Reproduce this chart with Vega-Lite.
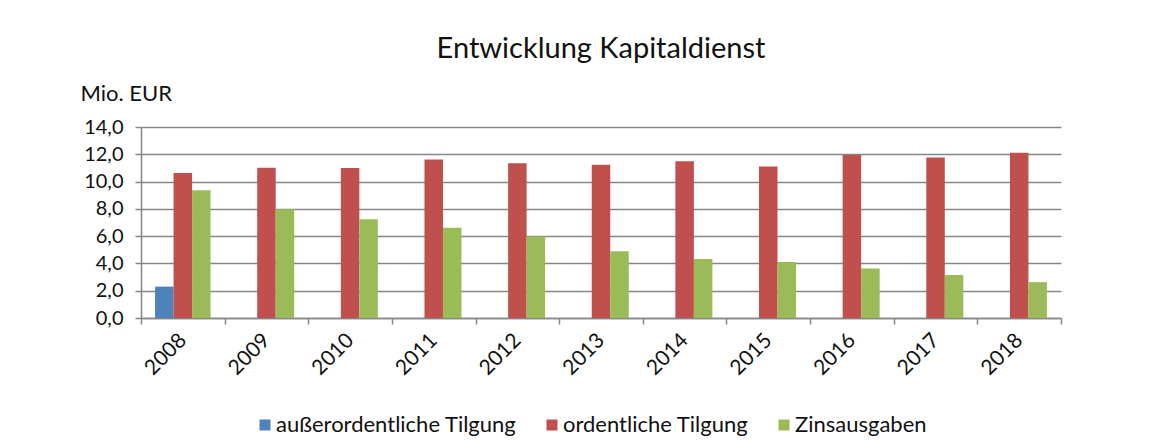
{
  "$schema": "https://vega.github.io/schema/vega-lite/v6.json",
  "autosize": {"type": "none"},
  "width": 920,
  "height": 191,
  "padding": {"left": 141, "top": 127, "right": 99, "bottom": 129},
  "background": "white",
  "title": {
    "text": "Entwicklung Kapitaldienst",
    "anchor": "middle",
    "frame": "group",
    "font": "Lato",
    "fontSize": 29,
    "fontWeight": "normal",
    "color": "#111111",
    "offset": 18
  },
  "data": {
    "values": [
      {"year": "2008", "series": "außerordentliche Tilgung", "value": 2.3},
      {"year": "2008", "series": "ordentliche Tilgung", "value": 10.63},
      {"year": "2008", "series": "Zinsausgaben", "value": 9.37},
      {"year": "2009", "series": "ordentliche Tilgung", "value": 11.02},
      {"year": "2009", "series": "Zinsausgaben", "value": 7.98},
      {"year": "2010", "series": "ordentliche Tilgung", "value": 11.0},
      {"year": "2010", "series": "Zinsausgaben", "value": 7.24},
      {"year": "2011", "series": "ordentliche Tilgung", "value": 11.61},
      {"year": "2011", "series": "Zinsausgaben", "value": 6.61},
      {"year": "2012", "series": "ordentliche Tilgung", "value": 11.34},
      {"year": "2012", "series": "Zinsausgaben", "value": 5.98},
      {"year": "2013", "series": "ordentliche Tilgung", "value": 11.24},
      {"year": "2013", "series": "Zinsausgaben", "value": 4.9},
      {"year": "2014", "series": "ordentliche Tilgung", "value": 11.49},
      {"year": "2014", "series": "Zinsausgaben", "value": 4.32},
      {"year": "2015", "series": "ordentliche Tilgung", "value": 11.1},
      {"year": "2015", "series": "Zinsausgaben", "value": 4.1},
      {"year": "2016", "series": "ordentliche Tilgung", "value": 11.95},
      {"year": "2016", "series": "Zinsausgaben", "value": 3.63},
      {"year": "2017", "series": "ordentliche Tilgung", "value": 11.76},
      {"year": "2017", "series": "Zinsausgaben", "value": 3.15},
      {"year": "2018", "series": "ordentliche Tilgung", "value": 12.12},
      {"year": "2018", "series": "Zinsausgaben", "value": 2.63}
    ]
  },
  "mark": {"type": "bar"},
  "encoding": {
    "x": {
      "field": "year",
      "type": "nominal",
      "scale": {"paddingInner": 0, "paddingOuter": 0},
      "axis": {
        "title": null,
        "labelAngle": -45,
        "labelAlign": "right",
        "labelBaseline": "middle",
        "labelPadding": 13,
        "labelFont": "Lato",
        "labelFontSize": 21,
        "labelColor": "#111111",
        "tickBand": "extent",
        "tickSize": 6,
        "tickColor": "#868686",
        "tickWidth": 1.5,
        "domainColor": "#868686",
        "domainWidth": 1.5,
        "grid": false
      }
    },
    "xOffset": {
      "field": "series",
      "type": "nominal",
      "scale": {
        "domain": ["außerordentliche Tilgung", "ordentliche Tilgung", "Zinsausgaben"],
        "paddingInner": 0,
        "paddingOuter": 0.76
      }
    },
    "y": {
      "field": "value",
      "type": "quantitative",
      "scale": {"domain": [0, 14], "nice": false},
      "axis": {
        "values": [0, 2, 4, 6, 8, 10, 12, 14],
        "labelExpr": "replace(format(datum.value, '.1f'), '.', ',')",
        "labelFont": "Lato",
        "labelFontSize": 20,
        "labelColor": "#111111",
        "labelPadding": 12,
        "tickSize": 6,
        "tickColor": "#868686",
        "tickWidth": 1.5,
        "domainColor": "#868686",
        "domainWidth": 1.5,
        "grid": true,
        "gridColor": "#868686",
        "gridWidth": 1.5,
        "title": "Mio. EUR",
        "titleAngle": 0,
        "titleAlign": "left",
        "titleBaseline": "alphabetic",
        "titleX": -61,
        "titleY": -27,
        "titleFont": "Lato",
        "titleFontSize": 22,
        "titleFontWeight": "normal",
        "titleColor": "#111111"
      }
    },
    "color": {
      "field": "series",
      "type": "nominal",
      "scale": {
        "domain": ["außerordentliche Tilgung", "ordentliche Tilgung", "Zinsausgaben"],
        "range": ["#4F81BD", "#C0504D", "#9BBB59"]
      },
      "legend": {
        "title": null,
        "orient": "none",
        "direction": "horizontal",
        "legendX": 113,
        "legendY": 287,
        "symbolType": "square",
        "symbolSize": 121,
        "symbolStrokeWidth": 0,
        "labelFont": "Lato",
        "labelFontSize": 22,
        "labelLimit": 0,
        "labelColor": "#111111",
        "labelOffset": 0,
        "columnPadding": 24
      }
    }
  },
  "config": {
    "view": {"stroke": null}
  }
}
